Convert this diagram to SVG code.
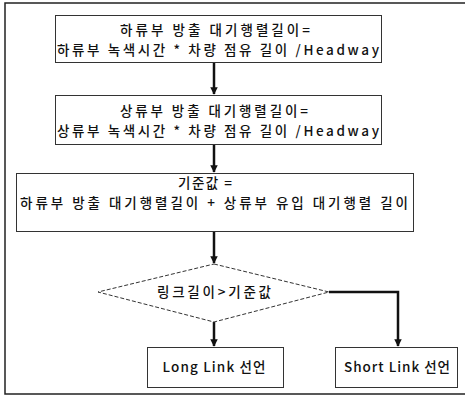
<svg xmlns="http://www.w3.org/2000/svg" width="465" height="399" viewBox="0 0 465 399">
  <defs>
    <style>
      .box { fill: #ffffff; stroke: #333333; stroke-width: 1; }
      .dia { fill: #ffffff; stroke: #333333; stroke-width: 1; stroke-dasharray: 4 2; }
      .lbl { font-family: "Noto Sans CJK KR", "Liberation Sans", sans-serif; font-size: 13.5px; font-weight: 500; fill: #111111; text-anchor: middle; }
      .wire { fill: none; stroke: #111111; stroke-width: 2.5; }
      .frame { fill: none; stroke: #222222; stroke-width: 1.5; }
    </style>
    <marker id="arrow" viewBox="0 0 10 10" refX="9" refY="5" markerWidth="3" markerHeight="3" orient="auto" markerUnits="strokeWidth">
      <path d="M0,0 L10,5 L0,10 z" fill="#111111"/>
    </marker>
  </defs>

  <rect width="465" height="399" fill="#ffffff"/>

  <!-- outer frame (left, top and bottom edges) -->
  <path class="frame" d="M466,3 L5,3 L5,394 L466,394"/>

  <!-- connectors -->
  <g id="connectors">
    <line class="wire" x1="214" y1="62" x2="214" y2="94" marker-end="url(#arrow)"/>
    <line class="wire" x1="214" y1="145" x2="214" y2="172" marker-end="url(#arrow)"/>
    <line class="wire" x1="214" y1="231" x2="214" y2="263" marker-end="url(#arrow)"/>
    <line class="wire" x1="214" y1="322" x2="214" y2="346" marker-end="url(#arrow)"/>
    <polyline class="wire" points="329,292 398,292 398,346" marker-end="url(#arrow)"/>
  </g>

  <g id="node-downstream">
    <rect class="box" x="55.5" y="15.5" width="326" height="47"/>
    <text class="lbl" x="215" y="35" textLength="190" lengthAdjust="spacing">하류부 방출 대기행렬길이=</text>
    <text class="lbl" x="218" y="55" textLength="322" lengthAdjust="spacing">하류부 녹색시간 * 차량 점유 길이 /Headway</text>
  </g>

  <g id="node-upstream">
    <rect class="box" x="55.5" y="95.5" width="326" height="49"/>
    <text class="lbl" x="214" y="116" textLength="188" lengthAdjust="spacing">상류부 방출 대기행렬길이=</text>
    <text class="lbl" x="218" y="136" textLength="322" lengthAdjust="spacing">상류부 녹색시간 * 차량 점유 길이 /Headway</text>
  </g>

  <g id="node-threshold">
    <rect class="box" x="16.5" y="173.5" width="397" height="58"/>
    <text class="lbl" x="205" y="188" textLength="54" lengthAdjust="spacing">기준값 =</text>
    <text class="lbl" x="214" y="208" textLength="388" lengthAdjust="spacing">하류부 방출 대기행렬길이 + 상류부 유입 대기행렬 길이</text>
  </g>

  <g id="node-decision">
    <polygon class="dia" points="214,264 329,292 214,322 98,292"/>
    <text class="lbl" x="214" y="297" textLength="114" lengthAdjust="spacing">링크길이&gt;기준값</text>
  </g>

  <g id="node-long">
    <rect class="box" x="147.5" y="347.5" width="136" height="40"/>
    <text class="lbl" x="214" y="372" textLength="103" lengthAdjust="spacing">Long Link 선언</text>
  </g>

  <g id="node-short">
    <rect class="box" x="335.5" y="347.5" width="122" height="40"/>
    <text class="lbl" x="397" y="372" textLength="106" lengthAdjust="spacing">Short Link 선언</text>
  </g>
</svg>
